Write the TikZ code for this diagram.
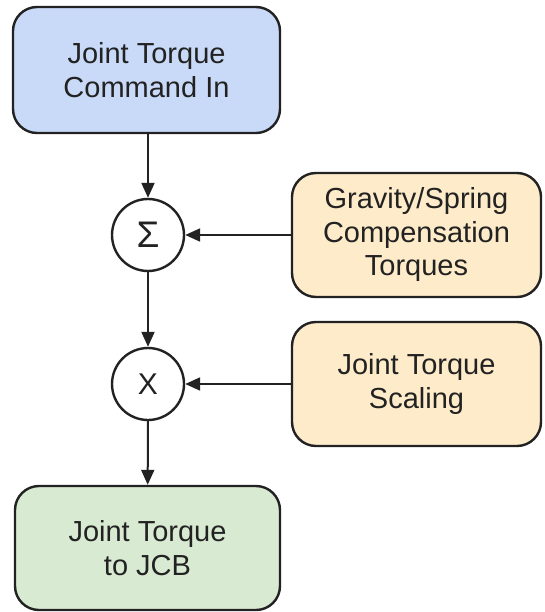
\documentclass[tikz,border=0pt]{standalone}
\usepackage{fontspec}
\setmainfont{Liberation Sans}
\usetikzlibrary{arrows.meta}
\definecolor{cmdblue}{HTML}{C9DAF8}
\definecolor{compyellow}{HTML}{FDEBC9}
\definecolor{outgreen}{HTML}{D9EAD3}
\definecolor{ink}{HTML}{222222}
\tikzset{
  block/.style={draw=ink, line width=2.4pt, rounded corners=24pt,
    align=center, text=ink, font=\fontsize{29}{33.5}\selectfont,
    inner sep=0pt},
  junction/.style={circle, draw=ink, line width=2.4pt, fill=white,
    minimum size=72pt, inner sep=0pt, text=ink,
    font=\fontsize{30}{34}\selectfont},
  flow/.style={draw=ink, line width=2pt,
    -{Triangle[length=15pt, width=13pt]}}
}
\begin{document}
\begin{tikzpicture}[x=1pt, y=-1pt]
  \useasboundingbox (0,0) rectangle (544,612);
  % input command and output blocks
  \node[block, fill=cmdblue, minimum width=267pt, minimum height=126pt]
    (cmd) at (146.5,70) {Joint Torque\\Command In};
  \node[block, fill=outgreen, minimum width=265pt, minimum height=124pt]
    (out) at (147.5,548) {Joint Torque\\to JCB};
  % side inputs
  \node[block, fill=compyellow, minimum width=249pt, minimum height=124pt]
    (comp) at (416.5,235) {Gravity/Spring\\Compensation\\Torques};
  \node[block, fill=compyellow, minimum width=249pt, minimum height=124pt]
    (scale) at (416.5,384) {Joint Torque\\Scaling};
  % summing and scaling junctions
  \node[junction, font=\fontsize{37}{40}\selectfont] (sum) at (148,235) {Σ};
  \node[junction] (mul) at (148,384) {X};
  % signal flow
  \draw[flow] (cmd.south -| sum.north) -- (sum.north);
  \draw[flow] (comp) -- (sum);
  \draw[flow] (sum) -- (mul);
  \draw[flow] (scale) -- (mul);
  \draw[flow] (mul) -- (out);
\end{tikzpicture}
\end{document}
